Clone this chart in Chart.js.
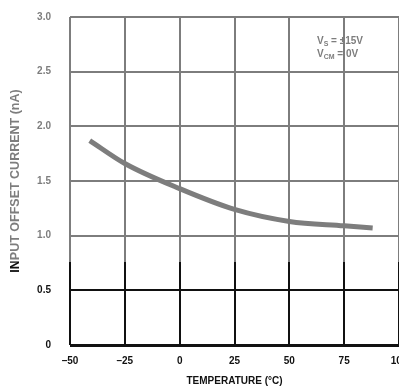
<!DOCTYPE html>
<html>
<head>
<meta charset="utf-8">
<script src="https://cdn.jsdelivr.net/npm/chart.js@4.4.0/dist/chart.umd.min.js"></script>
<style>
  html, body { margin: 0; padding: 0; background: #fff; overflow: hidden; }
  #wrap { width: 399px; height: 387px; overflow: hidden; }
</style>
</head>
<body>
<div id="wrap"><canvas id="offsetChart" width="420" height="387"></canvas></div>
<script>
// input offset current vs temperature
const temperaturas = [-41, -25, 0, 25, 50, 75, 88];
const correnteOffset = [1.87, 1.66, 1.43, 1.24, 1.13, 1.09, 1.07];
const ticksX = [-50, -25, 0, 25, 50, 75, 100];
const ticksY = [0, 0.5, 1.0, 1.5, 2.0, 2.5, 3.0];

const CINZA = '#7d7d7d';
const PRETO = '#111';
const CORTE_Y = 262; // below this the print is dark
const FAMILIA = 'Liberation Sans, Arial, sans-serif';

const fonte = { family: FAMILIA, size: 10, weight: 'bold' };

// vertical lines: grey on top, black on the bottom
function gradienteVertical(chart) {
  const area = chart.chartArea;
  if (!area) return CINZA;
  const g = chart.ctx.createLinearGradient(0, area.top, 0, area.bottom);
  const p = (CORTE_Y - area.top) / (area.bottom - area.top);
  g.addColorStop(0, CINZA);
  g.addColorStop(p, CINZA);
  g.addColorStop(p, PRETO);
  g.addColorStop(1, PRETO);
  return g;
}

const textosExtra = {
  id: 'textosExtra',
  afterDraw(chart) {
    const ctx = chart.ctx;
    const meio = (chart.chartArea.top + chart.chartArea.bottom) / 2;
    ctx.save();
    // y axis title
    ctx.translate(16, meio);
    ctx.rotate(-Math.PI / 2);
    ctx.font = 'bold 12.5px ' + FAMILIA;
    ctx.textAlign = 'center';
    ctx.textBaseline = 'middle';
    const corte = -(CORTE_Y - meio);
    const g = ctx.createLinearGradient(-100, 0, 100, 0);
    const p = (corte + 100) / 200;
    g.addColorStop(0, PRETO);
    g.addColorStop(p, PRETO);
    g.addColorStop(p, CINZA);
    g.addColorStop(1, CINZA);
    ctx.fillStyle = g;
    ctx.fillText('INPUT OFFSET CURRENT (nA)', 0, 0);
    ctx.restore();

    // test conditions
    ctx.save();
    ctx.fillStyle = CINZA;
    ctx.textBaseline = 'alphabetic';
    const linhas = [['V', 'S', ' = ±15V', 44], ['V', 'CM', ' = 0V', 57]];
    linhas.forEach(([v, sub, resto, y]) => {
      let x = 317;
      ctx.font = 'bold 10px ' + FAMILIA;
      ctx.fillText(v, x, y);
      x += ctx.measureText(v).width;
      ctx.font = 'bold 7px ' + FAMILIA;
      ctx.fillText(sub, x, y + 2);
      x += ctx.measureText(sub).width;
      ctx.font = 'bold 10px ' + FAMILIA;
      ctx.fillText(resto, x, y);
    });
    ctx.restore();
  }
};

const ctx = document.getElementById('offsetChart').getContext('2d');
new Chart(ctx, {
  type: 'line',
  data: {
    datasets: [{
      data: temperaturas.map((t, i) => ({ x: t, y: correnteOffset[i] })),
      borderColor: CINZA,
      borderWidth: 5,
      borderCapStyle: 'butt',
      pointRadius: 0,
      cubicInterpolationMode: 'monotone',
      fill: false
    }]
  },
  options: {
    responsive: false,
    animation: false,
    layout: { padding: { left: 0, top: 17, right: 21, bottom: 0 } },
    plugins: { legend: { display: false }, tooltip: { enabled: false } },
    scales: {
      x: {
        type: 'linear',
        min: -50, max: 100,
        afterBuildTicks: s => { s.ticks = ticksX.map(v => ({ value: v })); },
        afterFit: s => { s.height = 42; s.paddingLeft = 0; s.paddingRight = 0; },
        border: { display: false },
        grid: {
          color: c => gradienteVertical(c.chart),
          lineWidth: 2,
          drawTicks: false
        },
        ticks: {
          color: PRETO,
          font: fonte,
          padding: 10,
          callback: v => String(v).replace('-', '–')
        },
        title: {
          display: true,
          text: 'TEMPERATURE (°C)',
          color: PRETO,
          font: fonte,
          padding: { top: 3, bottom: 0 }
        }
      },
      y: {
        min: 0, max: 3,
        afterBuildTicks: s => { s.ticks = ticksY.map(v => ({ value: v })); },
        afterFit: s => { s.width = 70; s.paddingTop = 0; s.paddingBottom = 0; },
        border: { display: false },
        grid: {
          color: c => (c.tick && c.tick.value <= 0.5 ? PRETO : CINZA),
          lineWidth: c => (c.tick && c.tick.value === 0 ? 3 : 2),
          drawTicks: false
        },
        ticks: {
          color: c => (c.tick.value <= 0.5 ? PRETO : CINZA),
          font: fonte,
          padding: 19,
          callback: v => (v === 0 ? '0' : v.toFixed(1))
        }
      }
    }
  },
  plugins: [textosExtra]
});
</script>
</body>
</html>
